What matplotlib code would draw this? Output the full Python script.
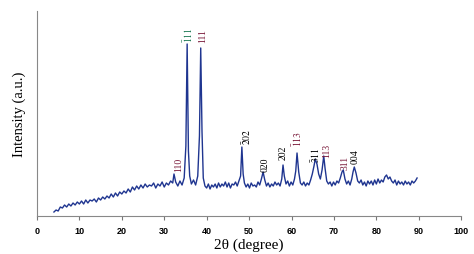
import matplotlib.pyplot as plt

# XRD pattern (2theta in degrees, intensity in a.u.)
two_theta = [4.0, 4.5, 5.0, 5.5, 6.0, 6.5, 7.0, 7.5, 8.0, 8.5, 9.0, 9.5,
             10.0, 10.5, 11.0, 11.5, 12.0, 12.5, 13.0, 13.5, 14.0, 14.5,
             15.0, 15.5, 16.0, 16.5, 17.0, 17.5, 18.0, 18.5, 19.0, 19.5,
             20.0, 20.5, 21.0, 21.5, 22.0, 22.5, 23.0, 23.5, 24.0, 24.5,
             25.0, 25.5, 26.0, 26.5, 27.0, 27.5, 28.0, 28.5, 29.0, 29.5,
             30.0, 30.5, 31.0, 31.5, 32.0, 32.3, 32.7, 33.2, 33.7, 34.2,
             34.7, 35.1, 35.4, 35.7, 36.0, 36.4, 36.9, 37.4, 37.9, 38.3,
             38.6, 38.9, 39.2, 39.6, 40.0, 40.4, 40.8, 41.2, 41.6, 42.0,
             42.4, 42.8, 43.2, 43.6, 44.0, 44.4, 44.8, 45.2, 45.6, 46.0,
             46.4, 46.8, 47.2, 47.6, 48.0, 48.3, 48.6, 48.9, 49.3, 49.7,
             50.1, 50.5, 50.9, 51.3, 51.7, 52.1, 52.5, 52.9, 53.3, 53.7,
             54.1, 54.5, 54.9, 55.3, 55.7, 56.1, 56.5, 56.9, 57.3, 57.7,
             58.0, 58.3, 58.7, 59.1, 59.5, 59.9, 60.3, 60.7, 61.0, 61.3,
             61.7, 62.1, 62.5, 62.9, 63.3, 63.7, 64.1, 64.5, 64.9, 65.3,
             65.6, 66.0, 66.4, 66.8, 67.2, 67.6, 67.9, 68.3, 68.7, 69.1,
             69.5, 69.9, 70.3, 70.7, 71.1, 71.5, 71.9, 72.2, 72.6, 73.0,
             73.4, 73.8, 74.2, 74.5, 74.8, 75.2, 75.6, 76.0, 76.4, 76.8,
             77.2, 77.6, 78.0, 78.4, 78.8, 79.2, 79.6, 80.0, 80.4, 80.8,
             81.2, 81.6, 82.0, 82.4, 82.8, 83.2, 83.6, 84.0, 84.4, 84.8,
             85.2, 85.6, 86.0, 86.4, 86.8, 87.2, 87.6, 88.0, 88.4, 88.8,
             89.2, 89.6]
intensity = [4, 6, 5, 9, 8, 11, 9, 12, 10, 13, 11, 14,
             12, 15, 12, 16, 13, 16, 15, 17, 14, 18,
             16, 19, 17, 20, 18, 22, 19, 23, 20, 24,
             22, 25, 23, 27, 24, 29, 26, 30, 27, 31,
             28, 32, 29, 31, 30, 33, 28, 32, 30, 34,
             29, 33, 31, 35, 33, 42, 34, 30, 35, 31,
             38, 70, 172, 65, 40, 32, 36, 31, 40, 80,
             168, 85, 38, 30, 28, 32, 27, 31, 29, 32,
             28, 33, 29, 32, 30, 34, 29, 33, 28, 32,
             31, 34, 30, 35, 40, 69, 42, 33, 29, 32,
             28, 33, 30, 31, 29, 34, 31, 37, 44, 36,
             30, 33, 29, 32, 30, 34, 31, 33, 30, 37,
             51, 40, 32, 35, 30, 34, 31, 37, 45, 63,
             44, 33, 31, 34, 30, 33, 31, 36, 42, 50,
             57, 52, 42, 37, 46, 60, 48, 35, 32, 34,
             30, 34, 31, 35, 33, 38, 44, 46, 37, 32,
             35, 31, 37, 44, 49, 43, 35, 33, 36, 31,
             34, 30, 35, 32, 35, 31, 36, 32, 37, 33,
             36, 34, 39, 41, 37, 39, 35, 33, 36, 31,
             35, 32, 34, 31, 35, 32, 34, 31, 35, 33,
             35, 38]

# Miller index labels: text, x, y (bottom of label), colour
hkl_text = [r'$\bar{1}11$', '111', '110', r'$\bar{2}02$', '020', '202',
            r'$\bar{1}13$', r'$\bar{3}11$', '113', '311', '004']
hkl_x = [35.6, 39.0, 33.3, 49.3, 53.8, 58.0, 61.4, 65.6, 68.2, 72.6, 75.0]
hkl_y = [174, 174, 45, 72, 45, 57, 70, 54, 59, 47, 53]
hkl_col = ['#1e7a55', '#7a1a3a', '#7a1a3a', 'black', 'black', 'black',
           '#7a1a3a', 'black', '#7a1a3a', '#7a1a3a', 'black']

fig = plt.figure(figsize=(4.74, 2.55), dpi=100)
ax = fig.add_axes([0.078, 0.149, 0.895, 0.804])

ax.plot(two_theta, intensity, color='#1f3590', linewidth=1.0)

for t, x, y, c in zip(hkl_text, hkl_x, hkl_y, hkl_col):
    ax.text(x, y, t, rotation=90, ha='center', va='bottom', color=c,
            fontsize=7, family='Liberation Serif',
            math_fontfamily='stix')

ax.set_xlim(0, 100)
ax.set_ylim(0, 205)
ax.set_xticks(range(0, 101, 10))
ax.set_yticks([])
for lab in ax.get_xticklabels():
    lab.set_fontfamily('Liberation Sans')
    lab.set_fontweight('bold')
    lab.set_fontsize(6.5)
ax.tick_params(axis='x', length=3, width=0.8, color='#777777', pad=4)

ax.spines['top'].set_visible(False)
ax.spines['right'].set_visible(False)
ax.spines['left'].set_color('#888888')
ax.spines['bottom'].set_color('#888888')

ax.set_xlabel('2θ (degree)', family='Liberation Serif', fontsize=11, labelpad=2)
ax.set_ylabel('Intensity (a.u.)', family='Liberation Serif', fontsize=10.5,
              labelpad=8)

fig.savefig('out.png', dpi=100)
